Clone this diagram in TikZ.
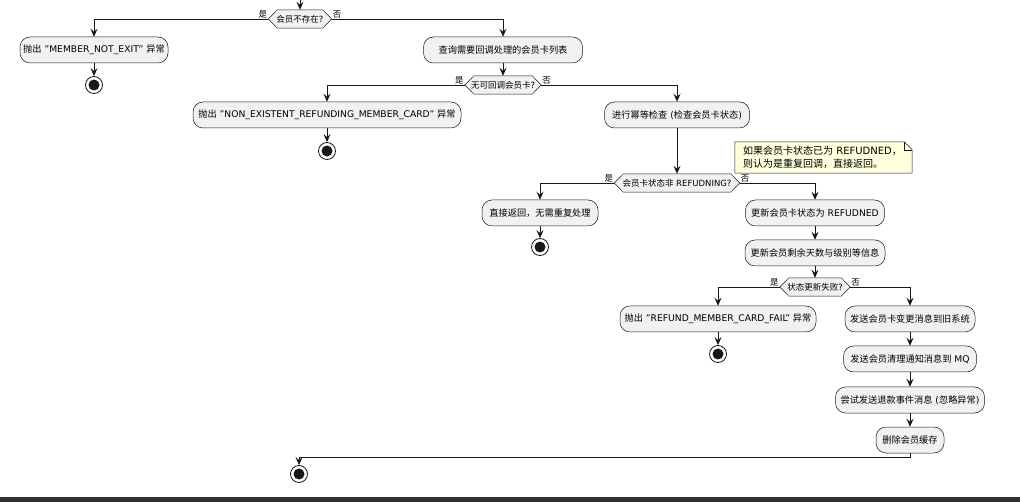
\documentclass[tikz,border=0pt]{standalone}
\usepackage{fontspec}
\setmainfont{DejaVu Sans}
\newfontfamily\cjk{Noto Sans CJK SC}
\usetikzlibrary{arrows.meta,backgrounds}
\definecolor{actfill}{HTML}{F1F1F1}
\definecolor{edge}{HTML}{181818}
\definecolor{notefill}{HTML}{FEFFDD}
\definecolor{band}{HTML}{323232}
\newcommand\zh[1]{{\cjk #1}}
\newcommand\sq{\symbol{34}}
% hexagonal frame behind a decision node: #1 node name, #2 tip length
\newcommand\hexframe[2]{%
  \begin{scope}[on background layer]
    \path[hexa] (#1.west) -- ([xshift=#2]#1.north west) -- ([xshift=-#2]#1.north east)
      -- (#1.east) -- ([xshift=-#2]#1.south east) -- ([xshift=#2]#1.south west) -- cycle;
  \end{scope}}
\tikzset{
  act/.style={draw=edge, line width=0.5pt, fill=actfill, rounded corners=10pt,
    minimum height=26pt, inner sep=0pt, font=\fontsize{9.2}{11}\selectfont},
  dec/.style={minimum height=18pt, inner sep=0pt, font=\fontsize{8.5}{10}\selectfont},
  hexa/.style={draw=edge, line width=0.5pt, fill=actfill},
  lbl/.style={inner sep=1pt, font=\fontsize{8.5}{10}\selectfont\cjk},
  stopn/.style={circle, draw=edge, line width=0.8pt, fill=white, minimum size=17pt,
    inner sep=0pt, path picture={\fill[edge] (path picture bounding box.center) circle (5.5pt);}},
  arr/.style={draw=edge, line width=0.8pt, -{Stealth[length=8pt,width=7pt,inset=3pt]}},
  notebox/.style={inner xsep=8pt, inner ysep=0pt, text width=161pt, minimum height=31pt,
    font=\fontsize{10}{13}\selectfont, align=left},
}
\begin{document}
\begin{tikzpicture}[x=1pt,y=-1pt]
\useasboundingbox (0,0) rectangle (1020,502);
\fill[band] (0,497) rectangle (1020,502);

% activities
\node[act, minimum width=148pt] (b1) at (94,50) {\zh{抛出} \sq MEMBER\_NOT\_EXIT\sq{} \zh{异常}};
\node[act, minimum width=159pt] (b2) at (503,50) {\zh{查询需要回调处理的会员卡列表}};
\node[act, minimum width=268pt] (b3) at (327,115) {\zh{抛出} \sq NON\_EXISTENT\_REFUNDING\_MEMBER\_CARD\sq{} \zh{异常}};
\node[act, minimum width=145pt] (b4) at (677,115) {\zh{进行幂等检查} (\zh{检查会员卡状态})};
\node[act, minimum width=116pt] (b5) at (540,213) {\zh{直接返回，无需重复处理}};
\node[act, minimum width=139pt] (b6) at (815,213) {\zh{更新会员卡状态为} REFUDNED};
\node[act, minimum width=140pt] (b7) at (815,253) {\zh{更新会员剩余天数与级别等信息}};
\node[act, minimum width=196pt] (b8) at (718,319) {\zh{抛出} \sq REFUND\_MEMBER\_CARD\_FAIL\sq{} \zh{异常}};
\node[act, minimum width=130pt] (b9) at (910,319) {\zh{发送会员卡变更消息到旧系统}};
\node[act, minimum width=133pt] (b10) at (910,359) {\zh{发送会员清理通知消息到} MQ};
\node[act, minimum width=149pt] (b11) at (910,400) {\zh{尝试发送退款事件消息} (\zh{忽略异常})};
\node[act, minimum width=68pt] (b12) at (910,440) {\zh{删除会员缓存}};

% decisions
\node[dec, minimum width=63pt] (d1) at (300,19) {\zh{会员不存在}?};
\node[dec, minimum width=76pt] (d2) at (503,85) {\zh{无可回调会员卡}?};
\node[dec, minimum width=125pt] (d3) at (677,183) {\zh{会员卡状态非} REFUDNING?};
\node[dec, minimum width=70pt] (d4) at (815,287) {\zh{状态更新失败}?};
\hexframe{d1}{9pt}
\hexframe{d2}{9pt}
\hexframe{d3}{9pt}
\hexframe{d4}{9pt}

% branch labels
\node[lbl, anchor=south east] (d1y) at (d1.west) {是};
\node[lbl, anchor=south west] (d1n) at (d1.east) {否};
\node[lbl, anchor=south east] (d2y) at (d2.west) {是};
\node[lbl, anchor=south west] (d2n) at (d2.east) {否};
\node[lbl, anchor=south east] (d3y) at (d3.west) {是};
\node[lbl, anchor=south west] (d3n) at (d3.east) {否};
\node[lbl, anchor=south east] (d4y) at (d4.west) {是};
\node[lbl, anchor=south west] (d4n) at (d4.east) {否};

% stops
\node[stopn] (s1) at (94,85) {};
\node[stopn] (s2) at (327,151) {};
\node[stopn] (s3) at (540,247) {};
\node[stopn] (s4) at (718,354) {};
\node[stopn] (s5) at (299,474) {};

% note
\node[notebox] (note) at (823.5,157.5) {\zh{如果会员卡状态已为} REFUDNED\zh{，}\\\zh{则认为是重复回调，直接返回。}};
\begin{scope}[on background layer]
  \filldraw[fill=notefill, draw=edge, line width=0.5pt] (note.north west) -- ([xshift=-8pt]note.north east)
    -- ([yshift=-8pt]note.north east) -- (note.south east) -- (note.south west) -- cycle;
  \draw[edge, line width=0.5pt] ([xshift=-8pt]note.north east) -- ([xshift=-8pt,yshift=-8pt]note.north east)
    -- ([yshift=-8pt]note.north east);
\end{scope}

% connectors
\coordinate (entry) at (300,0);
\coordinate (join) at (910,457);
\draw[arr] (entry) -- (d1.north);
\draw[arr] (d1.west) -| (b1.north);
\draw[arr] (d1.east) -| (b2.north);
\draw[arr] (b1.south) -- (s1.north);
\draw[arr] (b2.south) -- (d2.north);
\draw[arr] (d2.west) -| (b3.north);
\draw[arr] (d2.east) -| (b4.north);
\draw[arr] (b3.south) -- (s2.north);
\draw[arr] (b4.south) -- (d3.north);
\draw[arr] (d3.west) -| (b5.north);
\draw[arr] (d3.east) -| (b6.north);
\draw[arr] (b5.south) -- (s3.north);
\draw[arr] (b6.south) -- (b7.north);
\draw[arr] (b7.south) -- (d4.north);
\draw[arr] (d4.west) -| (b8.north);
\draw[arr] (d4.east) -| (b9.north);
\draw[arr] (b8.south) -- (s4.north);
\draw[arr] (b9.south) -- (b10.north);
\draw[arr] (b10.south) -- (b11.north);
\draw[arr] (b11.south) -- (b12.north);
\draw[arr] (b12.south) -- (join) -| (s5.north);
\end{tikzpicture}
\end{document}
